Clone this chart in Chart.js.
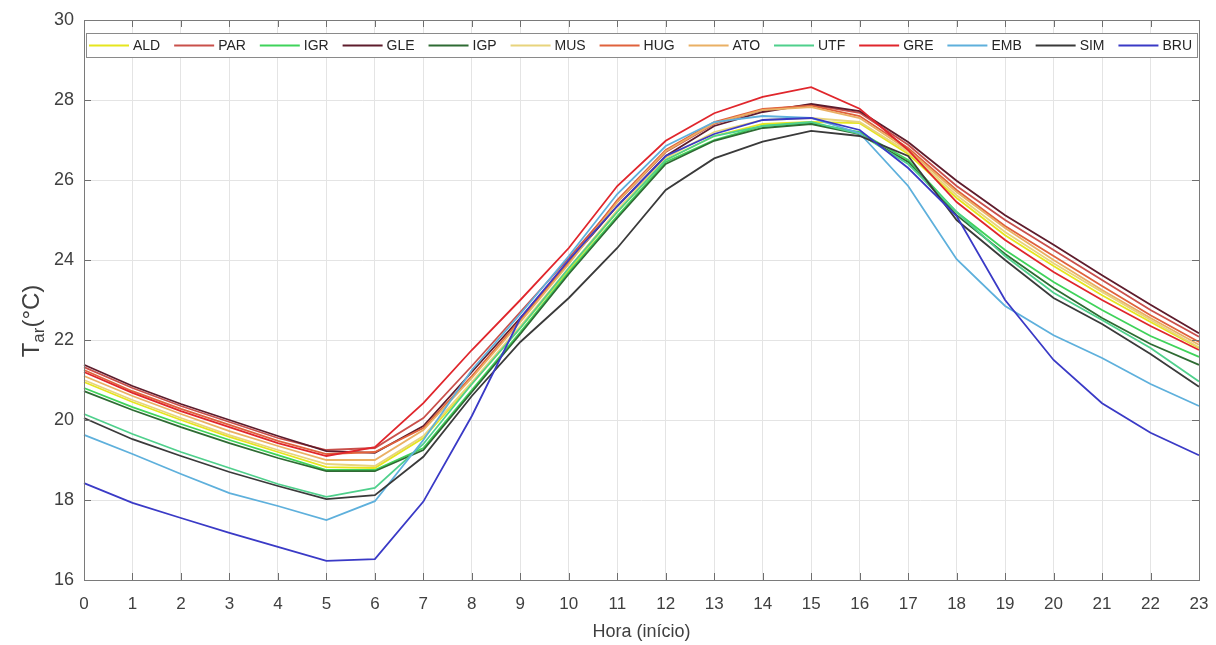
<!DOCTYPE html>
<html><head><meta charset="utf-8">
<script src="https://cdn.jsdelivr.net/npm/chart.js@4.4.1/dist/chart.umd.min.js"></script>
<style>html,body{margin:0;padding:0;background:#fff}#wrap{width:1216px;height:645px}</style>
</head><body><div id="wrap"><canvas id="c" width="1216" height="645"></canvas></div>
<script>
const hours = [0,1,2,3,4,5,6,7,8,9,10,11,12,13,14,15,16,17,18,19,20,21,22,23];
const yTickValues = [16,18,20,22,24,26,28,30];
const seriesNames = ['ALD','PAR','IGR','GLE','IGP','MUS','HUG','ATO','UTF','GRE','EMB','SIM','BRU'];

const ALD = [20.95,20.45,20.00,19.58,19.20,18.82,18.80,19.55,20.90,22.30,23.75,25.20,26.50,27.10,27.40,27.45,27.42,26.65,25.55,24.62,23.85,23.12,22.45,21.80];
const PAR = [21.32,20.80,20.35,19.95,19.55,19.25,19.30,20.05,21.35,22.70,24.05,25.45,26.70,27.40,27.75,27.88,27.68,26.88,25.85,25.00,24.25,23.50,22.75,22.08];
const IGR = [20.80,20.32,19.90,19.50,19.12,18.75,18.75,19.30,20.75,22.20,23.70,25.10,26.45,27.00,27.35,27.42,27.20,26.50,25.20,24.25,23.45,22.75,22.10,21.58];
const GLE = [21.38,20.85,20.40,20.00,19.60,19.22,19.18,19.85,21.20,22.55,23.95,25.35,26.60,27.35,27.70,27.90,27.72,26.95,25.98,25.12,24.38,23.62,22.88,22.17];
const IGP = [20.72,20.25,19.82,19.42,19.05,18.72,18.72,19.25,20.70,22.15,23.65,25.05,26.40,26.98,27.30,27.40,27.15,26.45,25.12,24.15,23.30,22.55,21.90,21.38];
const MUS = [21.00,20.50,20.05,19.62,19.25,18.90,18.85,19.60,20.95,22.35,23.80,25.25,26.55,27.20,27.50,27.55,27.45,26.70,25.62,24.70,23.92,23.20,22.50,21.82];
const HUG = [21.25,20.72,20.28,19.88,19.48,19.15,19.20,19.80,21.10,22.50,23.95,25.50,26.75,27.45,27.78,27.86,27.60,26.80,25.75,24.85,24.10,23.35,22.62,21.95];
const ATO = [21.10,20.60,20.15,19.72,19.35,19.00,19.00,19.75,21.05,22.45,23.90,25.45,26.72,27.42,27.75,27.82,27.55,26.75,25.70,24.80,24.00,23.25,22.55,21.88];
const UTF = [20.15,19.65,19.20,18.80,18.40,18.08,18.30,19.40,20.90,22.30,23.80,25.20,26.50,27.10,27.35,27.45,27.15,26.40,25.20,24.10,23.18,22.50,21.80,20.96];
const GRE = [21.20,20.68,20.22,19.82,19.42,19.10,19.32,20.42,21.75,23.00,24.30,25.85,26.98,27.67,28.08,28.32,27.78,26.75,25.45,24.50,23.70,23.00,22.35,21.75];
const EMB = [19.63,19.15,18.65,18.17,17.85,17.50,17.97,19.50,21.25,22.65,24.10,25.65,26.85,27.45,27.60,27.55,27.17,25.85,24.02,22.85,22.12,21.55,20.90,20.35];
const SIM = [20.05,19.52,19.10,18.70,18.35,18.02,18.12,19.08,20.60,21.95,23.05,24.30,25.75,26.54,26.96,27.23,27.10,26.60,25.00,24.00,23.05,22.40,21.65,20.83];
const BRU = [18.42,17.93,17.55,17.18,16.83,16.48,16.52,17.96,20.10,22.55,24.00,25.35,26.60,27.15,27.50,27.55,27.25,26.30,25.10,23.00,21.50,20.42,19.68,19.12];

const seriesValues = {ALD,PAR,IGR,GLE,IGP,MUS,HUG,ATO,UTF,GRE,EMB,SIM,BRU};
const colorOf = {
  ALD:'#e6e61e', PAR:'#c9504b', IGR:'#3fd35a', GLE:'#5e1c2c', IGP:'#2e6b33',
  MUS:'#e8d47c', HUG:'#e0623c', ATO:'#eab064', UTF:'#4fd08c', GRE:'#e0262c',
  EMB:'#5eb0dc', SIM:'#3a3a3a', BRU:'#3a3ac6'
};

const FONT = "'Liberation Sans', Arial, Helvetica, sans-serif";
const N = seriesNames.length;
const datasets = seriesNames.map((name, i) => ({
  label: name,
  data: seriesValues[name],
  borderColor: colorOf[name],
  backgroundColor: colorOf[name],
  borderWidth: 1.8,
  pointRadius: 0,
  tension: 0,
  fill: false,
  order: N - i
}));

const frame = {
  id: 'frame',
  afterDatasetsDraw(chart) {
    const {ctx, chartArea: a, scales} = chart;
    ctx.save();
    ctx.strokeStyle = '#6e6e6e';
    ctx.lineWidth = 1;
    const tl = 7;
    ctx.beginPath();
    hours.forEach((h, i) => {
      const x = Math.round(scales.x.getPixelForValue(i)) + 0.5;
      ctx.moveTo(x, a.bottom); ctx.lineTo(x, a.bottom - tl);
      ctx.moveTo(x, a.top); ctx.lineTo(x, a.top + tl);
    });
    yTickValues.forEach(v => {
      const y = Math.round(scales.y.getPixelForValue(v)) + 0.5;
      ctx.moveTo(a.left, y); ctx.lineTo(a.left + tl, y);
      ctx.moveTo(a.right, y); ctx.lineTo(a.right - tl, y);
    });
    ctx.stroke();
    ctx.strokeStyle = '#7a7a7a';
    ctx.strokeRect(Math.round(a.left) + 0.5, Math.round(a.top) + 0.5, Math.round(a.right - a.left), Math.round(a.bottom - a.top));

    // legend inside top of axes
    const bx = a.left + 2, by = a.top + 13, bw = a.right - a.left - 4, bh = 24;
    ctx.fillStyle = '#ffffff';
    ctx.fillRect(bx, by, bw, bh);
    ctx.strokeStyle = '#8a8a8a';
    ctx.strokeRect(Math.round(bx) + 0.5, Math.round(by) + 0.5, Math.round(bw), bh);
    ctx.font = '14px ' + FONT;
    ctx.textBaseline = 'middle';
    const lineLen = 40, gap = 4;
    const widths = seriesNames.map(n => lineLen + gap + ctx.measureText(n).width);
    const total = widths.reduce((s, w) => s + w, 0);
    const inner = bw - 8;
    const spacing = (inner - total) / (N - 1);
    let x = bx + 3;
    const cy = by + bh / 2 + 0.5;
    seriesNames.forEach((n, i) => {
      ctx.strokeStyle = colorOf[n];
      ctx.lineWidth = 1.8;
      ctx.beginPath(); ctx.moveTo(x, cy); ctx.lineTo(x + lineLen, cy); ctx.stroke();
      ctx.fillStyle = '#262626';
      ctx.textAlign = 'left';
      ctx.fillText(n, x + lineLen + gap, cy + 1);
      x += widths[i] + spacing;
    });

    // y-axis title with subscript: T_ar(°C)
    const big = 24, small = 17;
    ctx.fillStyle = '#404040';
    ctx.font = big + 'px ' + FONT;
    const wT = ctx.measureText('T').width;
    const wC = ctx.measureText('(°C)').width;
    ctx.font = small + 'px ' + FONT;
    const wS = ctx.measureText('ar').width;
    const totalW = wT + wS + wC;
    ctx.translate(31, 321);
    ctx.rotate(-Math.PI / 2);
    ctx.textAlign = 'left';
    ctx.textBaseline = 'alphabetic';
    let tx = -totalW / 2;
    ctx.font = big + 'px ' + FONT;
    ctx.fillText('T', tx, 8); tx += wT;
    ctx.font = small + 'px ' + FONT;
    ctx.fillText('ar', tx, 13); tx += wS;
    ctx.font = big + 'px ' + FONT;
    ctx.fillText('(°C)', tx, 8);
    ctx.restore();
  }
};

new Chart(document.getElementById('c'), {
  type: 'line',
  data: { labels: hours.map(String), datasets },
  options: {
    responsive: false,
    animation: false,
    devicePixelRatio: 1,
    layout: { padding: { left: 0, right: 17, top: 20, bottom: 0 } },
    plugins: { legend: { display: false }, tooltip: { enabled: false } },
    scales: {
      x: {
        type: 'category',
        offset: false,
        grid: { color: '#e4e4e4', drawTicks: false },
        border: { display: false },
        ticks: { padding: 14, color: '#404040', autoSkip: false, maxRotation: 0, font: { family: FONT, size: 17 } },
        title: { display: true, text: 'Hora (início)', color: '#404040', font: { family: FONT, size: 18 }, padding: { top: 0, bottom: 2 } },
        afterFit(s) { s.height = 65; s.paddingRight = 0; s.paddingLeft = 0; }
      },
      y: {
        min: 16, max: 30,
        grid: { color: '#e4e4e4', drawTicks: false },
        border: { display: false },
        ticks: { stepSize: 2, padding: 10, color: '#404040', font: { family: FONT, size: 18 } },
        afterFit(s) { s.width = 84; s.paddingTop = 0; s.paddingBottom = 0; }
      }
    }
  },
  plugins: [frame]
});
</script>
</body></html>
